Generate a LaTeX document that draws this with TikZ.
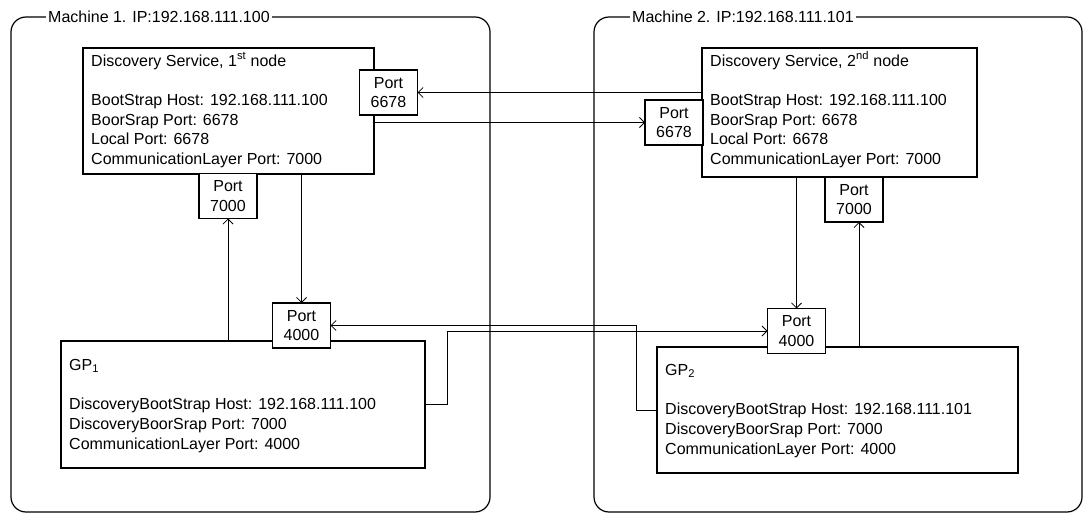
\documentclass[tikz,border=0pt]{standalone}
\usepackage{fontspec}
\setmainfont{Liberation Sans}
\usetikzlibrary{arrows.meta}
\begin{document}
\begin{tikzpicture}[x=1pt,y=-1pt,
  every node/.style={font=\fontsize{16}{19.7}\selectfont},
  frame/.style={draw,line width=1.2pt,rounded corners=15pt,inner sep=0,outer sep=0,anchor=north west},
  framelabel/.style={fill=white,inner sep=2pt,anchor=west},
  box/.style={draw,line width=1.2pt,inner sep=0,outer sep=0,anchor=north west},
  txt/.style={inner sep=0,anchor=north west,align=left},
  port/.style={draw,fill=white,line width=1.2pt,inner sep=0,outer sep=0,minimum width=58pt,minimum height=45pt,align=center},
  conn/.style={line width=0.8pt,-{Straight Barb[length=5pt,width=10pt]}},
  wire/.style={line width=0.8pt}]
\useasboundingbox (0,0) rectangle (1085,513);
% machine frames
\node[frame,minimum width=479pt,minimum height=495pt] (m1) at (11,17) {};
\node[framelabel] (m1l) at (46,16.5) {Machine 1. IP:192.168.111.100};
\node[frame,minimum width=488pt,minimum height=495pt] (m2) at (594,17) {};
\node[framelabel] (m2l) at (630,16.5) {Machine 2. IP:192.168.111.101};
% main boxes
\node[box,minimum width=291pt,minimum height=126pt] (ds1) at (83,48) {};
\node[txt] (ds1t) at ([shift={(8,2)}]ds1.north west) {\rule{0pt}{16pt}Discovery Service, 1\textsuperscript{st} node\\[19.7pt]BootStrap Host: 192.168.111.100\\BoorSrap Port: 6678\\Local Port: 6678\\CommunicationLayer Port: 7000};
\node[box,minimum width=275pt,minimum height=129pt] (ds2) at (702,48) {};
\node[txt] (ds2t) at ([shift={(8,2)}]ds2.north west) {\rule{0pt}{16pt}Discovery Service, 2\textsuperscript{nd} node\\[19.7pt]BootStrap Host: 192.168.111.100\\BoorSrap Port: 6678\\Local Port: 6678\\CommunicationLayer Port: 7000};
\node[box,minimum width=364pt,minimum height=127pt] (gp1) at (61,341) {};
\node[txt] (gp1t) at ([shift={(8,13)}]gp1.north west) {\rule{0pt}{16pt}GP\textsubscript{1}\\[19.7pt]DiscoveryBootStrap Host: 192.168.111.100\\DiscoveryBoorSrap Port: 7000\\CommunicationLayer Port: 4000};
\node[box,minimum width=361pt,minimum height=126pt] (gp2) at (657,347) {};
\node[txt] (gp2t) at ([shift={(8,12)}]gp2.north west) {\rule{0pt}{16pt}GP\textsubscript{2}\\[19.7pt]DiscoveryBootStrap Host: 192.168.111.101\\DiscoveryBoorSrap Port: 7000\\CommunicationLayer Port: 4000};
% ports
\node[port] (p66a) at (388.5,92.5) {Port\\6678};
\node[port] (p66b) at (674,122.5) {Port\\6678};
\node[port] (p70a) at (228,196) {Port\\7000};
\node[port] (p70b) at (854,199.5) {Port\\7000};
\node[port] (p40a) at (301.5,325.5) {Port\\4000};
\node[port] (p40b) at (796.5,331) {Port\\4000};
% connectors
\draw[conn] (ds2.west |- p66a.east) -- (p66a.east);
\draw[conn] (ds1.east |- p66b.west) -- (p66b.west);
\draw[conn] (p70a.south |- gp1.north) -- (p70a.south);
\coordinate (p70bs) at ([xshift=5pt]p70b.south);
\draw[conn] (p70bs |- gp2.north) -- (p70bs);
\draw[conn] (p40a.north |- ds1.south) -- (p40a.north);
\draw[conn] (p40b.north |- ds2.south) -- (p40b.north);
\draw[conn] (gp2.west) -- ++(-21,0) |- (p40a.east);
\draw[conn] (gp1.east) -- ++(22,0) |- (p40b.west);
\end{tikzpicture}
\end{document}
